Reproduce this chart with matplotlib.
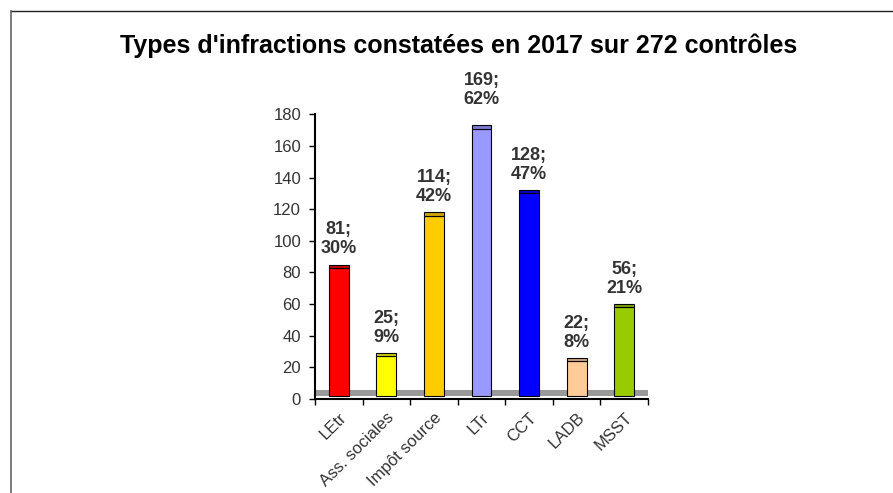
import matplotlib
matplotlib.use("Agg")
import matplotlib.pyplot as plt
from matplotlib.lines import Line2D

plt.rcParams['font.family'] = ['Liberation Sans', 'DejaVu Sans']

categories = ["LEtr", "Ass. sociales", "Impôt source", "LTr", "CCT", "LADB", "MSST"]
counts = [81, 25, 114, 169, 128, 22, 56]
percents = [30, 9, 42, 62, 47, 8, 21]
face_colors = ["#FF0000", "#FFFF00", "#FFCC00", "#9999FF", "#0000FF", "#FFCC99", "#99CC00"]
top_colors = ["#CC0000", "#CCCC00", "#CCA300", "#7A7ACC", "#0000CC", "#CCA37A", "#7AA300"]

W, H = 893, 493
fig = plt.figure(figsize=(W / 100, H / 100), dpi=100)
ax = fig.add_axes([315 / W, (H - 399) / H, 333 / W, (399 - 114.3) / H])

x = range(len(categories))
floor_lo, floor_hi, depth = 2, 5.7, 2

# grey floor of the pseudo-3D chart
ax.axhspan(floor_lo, floor_hi, color="#999999", zorder=1, lw=0)

ax.bar(x, counts, bottom=floor_lo, width=0.42, color=face_colors,
       edgecolor="black", linewidth=0.8, zorder=2)
ax.bar(x, depth, bottom=[c + floor_lo for c in counts], width=0.42,
       color=top_colors, edgecolor="black", linewidth=0.8, zorder=2)

for i, (c, p) in enumerate(zip(counts, percents)):
    top = c + floor_lo + depth
    # labels above the axis top get pushed up a bit, like Excel does
    gap = 11 if top > 170 else 4.5
    ax.text(i, top + gap, f"{c};\n{p}%", ha="center", va="bottom",
            fontsize=13, fontweight="bold", color="#333333", linespacing=1.15,
            clip_on=False)

ax.set_xlim(-0.5, 6.5)
ax.set_ylim(0, 180)
ax.set_yticks(range(0, 181, 20))
ax.set_xticks([i - 0.5 for i in range(len(categories) + 1)], minor=False)
ax.set_xticklabels([])
ax.set_xticks(list(x), minor=True)
ax.set_xticklabels(categories, minor=True, rotation=45, ha="right",
                   rotation_mode="anchor", fontsize=12, color="#333333")
ax.tick_params(axis="x", which="minor", length=0, pad=8)
ax.tick_params(axis="x", which="major", length=4, width=1, color="black")
ax.tick_params(axis="y", length=4, width=1, labelsize=12, labelcolor="#333333", pad=6)

for s in ["top", "right"]:
    ax.spines[s].set_visible(False)
ax.spines["left"].set_linewidth(1.5)
ax.spines["bottom"].set_linewidth(1.5)

fig.text(459 / W, (H - 46) / H, "Types d'infractions constatées en 2017 sur 272 contrôles",
         ha="center", va="center", fontsize=18, fontweight="bold", color="black")

# outer frame (top and left edges only)
fig.add_artist(Line2D([11 / W, 1], [1 - 11 / H, 1 - 11 / H], transform=fig.transFigure,
                      color="#222222", lw=1))
fig.add_artist(Line2D([11 / W, 11 / W], [0, 1 - 11 / H], transform=fig.transFigure,
                      color="#666666", lw=1.2))

fig.savefig("out.png", dpi=100)
